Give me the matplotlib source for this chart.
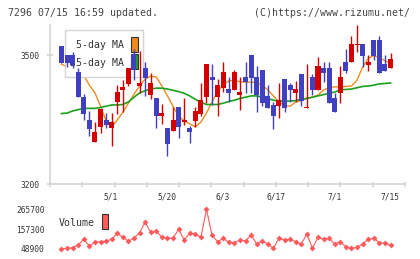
import numpy as np
import matplotlib
matplotlib.use('Agg')
import matplotlib.pyplot as plt
from matplotlib.patches import Rectangle

# daily candles (first one is the partly shown day before the window)
opens = [3520, 3521, 3500, 3500, 3460, 3403, 3348, 3298, 3333, 3349, 3330,
         3390, 3419, 3433, 3502, 3429, 3470, 3408, 3400, 3359, 3330,
         3323, 3379, 3345, 3331, 3347, 3363, 3403, 3449, 3403, 3423,
         3421, 3419, 3407, 3448, 3500, 3449, 3465, 3405, 3384, 3382,
         3444, 3430, 3412, 3456, 3377, 3449, 3419, 3469, 3469, 3401,
         3412, 3483, 3483, 3524, 3526, 3477, 3535, 3535, 3479, 3469]
highs = [3521, 3521, 3500, 3508, 3470, 3409, 3369, 3344, 3374, 3365, 3365,
         3430, 3442, 3471, 3514, 3509, 3484, 3459, 3400, 3386, 3330,
         3380, 3379, 3401, 3335, 3380, 3434, 3479, 3479, 3444, 3483,
         3449, 3465, 3449, 3484, 3500, 3474, 3465, 3430, 3391, 3435,
         3444, 3436, 3440, 3456, 3479, 3456, 3495, 3483, 3483, 3412,
         3474, 3514, 3544, 3570, 3526, 3500, 3535, 3544, 3500, 3505]
lows = [3520, 3482, 3473, 3470, 3403, 3349, 3312, 3298, 3319, 3330, 3289,
        3363, 3368, 3428, 3442, 3412, 3404, 3398, 3330, 3340, 3264,
        3323, 3308, 3337, 3295, 3333, 3359, 3388, 3384, 3359, 3413,
        3390, 3419, 3372, 3412, 3412, 3368, 3381, 3377, 3328, 3354,
        3368, 3390, 3390, 3382, 3377, 3407, 3419, 3438, 3389, 3368,
        3389, 3459, 3483, 3507, 3473, 3464, 3488, 3459, 3464, 3469]
closes = [3521, 3482, 3482, 3478, 3403, 3364, 3328, 3322, 3374, 3337, 3344,
          3414, 3426, 3471, 3465, 3435, 3447, 3436, 3359, 3365, 3293,
          3349, 3333, 3349, 3320, 3370, 3395, 3479, 3442, 3430, 3460,
          3412, 3461, 3414, 3437, 3447, 3407, 3389, 3377, 3359, 3395,
          3377, 3419, 3421, 3394, 3379, 3419, 3474, 3459, 3389, 3368,
          3448, 3464, 3526, 3526, 3498, 3484, 3498, 3459, 3464, 3491]

ma5 = [3479, 3472, 3465, 3460, 3453, 3430, 3412, 3381, 3347, 3333,
       3349, 3367, 3388, 3409, 3428, 3444, 3451, 3449, 3428, 3405,
       3381, 3358, 3347, 3340, 3333, 3344, 3365, 3391, 3416, 3430,
       3440, 3441, 3438, 3437, 3437, 3436, 3430, 3419, 3405, 3391,
       3383, 3381, 3391, 3394, 3400, 3402, 3407, 3419, 3424, 3426,
       3426, 3427, 3428, 3442, 3472, 3492, 3499, 3494, 3487, 3481]
ma25 = [3364, 3365, 3370, 3373, 3376, 3376, 3376, 3378, 3381, 3384,
        3384, 3385, 3391, 3402, 3412, 3417, 3421, 3423, 3423, 3421,
        3418, 3415, 3411, 3405, 3397, 3390, 3385, 3385, 3385, 3388,
        3392, 3395, 3399, 3402, 3405, 3405, 3402, 3399, 3395, 3393,
        3393, 3393, 3394, 3397, 3399, 3402, 3405, 3408, 3411, 3414,
        3419, 3420, 3421, 3424, 3427, 3428, 3430, 3433, 3434, 3435]

volumes = [48900, 52500, 56200, 70800, 101700, 65300, 85300, 89000, 92600, 101700,
           134500, 112700, 92600, 107200, 138200, 194600, 140000, 149100, 112700, 107200,
           107200, 156400, 98100, 134500, 130900, 112700, 265700, 123600, 89000, 107200,
           85300, 83500, 98100, 92600, 125400, 76200, 92600, 76200, 52500, 107200,
           98100, 101700, 89000, 76200, 130900, 52500, 112700, 101700, 107200, 76200,
           89000, 59800, 52500, 58000, 76200, 101700, 107200, 83500, 79900, 68900]

date_labels = ['5/1', '5/20', '6/3', '6/17', '7/1', '7/15']
date_idx = [8.8, 18.9, 28.9, 38.4, 49.0, 58.9]

RED = '#d40000'
BLUE = '#4040c0'
ORANGE = '#f08c1c'
GREEN = '#1aa01a'
VOLC = '#ff5a5a'
AXC = '#d4d4d4'
TXT = '#333333'
MONO = 'DejaVu Sans Mono'
W, H = 420, 259


def fx(px):
    return px / W


def fy(py):
    return 1 - py / H


def main():
    fig = plt.figure(figsize=(4.2, 2.59), dpi=100)
    fig.patch.set_facecolor('white')

    ax = fig.add_axes([fx(50), fy(184), fx(355), 159 / H])
    xlim = (-2.06, 61.6)
    x_c = np.arange(-1, len(opens) - 1)
    x_v = np.arange(len(volumes))

    # candles
    for i, o, h, l, c in zip(x_c, opens, highs, lows, closes):
        col = RED if c >= o else BLUE
        ax.vlines(i, l, h, color=col, lw=1.0, zorder=5)
        body = max(abs(c - o), 2.0)
        ax.bar(i, body, bottom=min(o, c), width=0.9, color=col,
               linewidth=0, zorder=5)

    ax.plot(x_v, ma5, color=ORANGE, lw=1.0, zorder=2)
    ax.plot(x_v, ma25, color=GREEN, lw=1.2, zorder=2)

    ax.set_xlim(*xlim)
    ax.set_ylim(3200, 3570)
    for s in ['top', 'right']:
        ax.spines[s].set_visible(False)
    for s in ['left', 'bottom']:
        ax.spines[s].set_color(AXC)
        ax.spines[s].set_linewidth(1.2)
    ax.set_yticks([3200, 3500])
    ax.tick_params(axis='y', direction='inout', length=5, width=1.2,
                   color=AXC, labelsize=5.7, labelcolor=TXT, pad=5)
    ax.set_xticks(np.linspace(xlim[0], xlim[1], 12))
    ax.set_xticklabels([])
    ax.tick_params(axis='x', which='major', direction='inout', length=3.6,
                   width=1.2, color=AXC)
    ax.set_xticks(date_idx, minor=True)
    ax.set_xticklabels(date_labels, minor=True)
    ax.tick_params(axis='x', which='minor', length=0, labelsize=5.7,
                   labelcolor=TXT, pad=6)
    for t in ax.get_xticklabels(minor=True) + ax.get_yticklabels():
        t.set_family(MONO)

    # legend box sits above the lines but under the candles
    tf = fig.transFigure
    ax.add_patch(Rectangle((fx(65), fy(77)), fx(78), 47 / H, transform=tf,
                           facecolor='white', edgecolor=AXC, lw=1.0,
                           zorder=3, clip_on=False))
    ax.add_patch(Rectangle((fx(131), fy(52)), fx(6.5), 15 / H, transform=tf,
                           facecolor=ORANGE, edgecolor='#333333', lw=0.8,
                           zorder=4, clip_on=False))
    ax.add_patch(Rectangle((fx(131), fy(69)), fx(6.5), 15 / H, transform=tf,
                           facecolor=GREEN, edgecolor='#333333', lw=0.8,
                           zorder=4, clip_on=False))
    ax.text(fx(124.5), fy(45.5), '5-day MA', transform=tf, ha='right',
            va='center', fontsize=7.1, family=MONO, color=TXT, zorder=4)
    ax.text(fx(124.5), fy(63), '25-day MA', transform=tf, ha='right',
            va='center', fontsize=7.1, family=MONO, color=TXT, zorder=4)

    # volume panel
    axv = fig.add_axes([fx(50), fy(249), fx(355), 39.7 / H])
    axv.plot(x_v, volumes, color=VOLC, lw=0.8, marker='D', markersize=3.0,
             markeredgewidth=0, clip_on=False)
    axv.set_xlim(*xlim)
    axv.set_ylim(48900, 265700)
    for s in axv.spines.values():
        s.set_visible(False)
    axv.set_xticks([])
    axv.set_yticks([48900, 157300, 265700])
    axv.tick_params(axis='y', length=0, labelsize=5.7, labelcolor=TXT, pad=4)
    for t in axv.get_yticklabels():
        t.set_family(MONO)
    fig.patches.append(Rectangle((fx(101.5), fy(228.5)), fx(6.5), 15 / H,
                                 transform=tf, facecolor=VOLC,
                                 edgecolor='#333333', lw=0.8))
    fig.text(fx(58.5), fy(222.5), 'Volume', ha='left', va='center',
             fontsize=7.1, family=MONO, color=TXT)

    fig.text(fx(8), fy(12.5), '7296 07/15 16:59 updated.', ha='left',
             va='center', fontsize=7.1, family=MONO, color='#444444')
    fig.text(fx(410), fy(12.5), '(C)https://www.rizumu.net/', ha='right',
             va='center', fontsize=7.1, family=MONO, color='#444444')

    fig.savefig('out.png', dpi=100)


if __name__ == '__main__':
    main()
